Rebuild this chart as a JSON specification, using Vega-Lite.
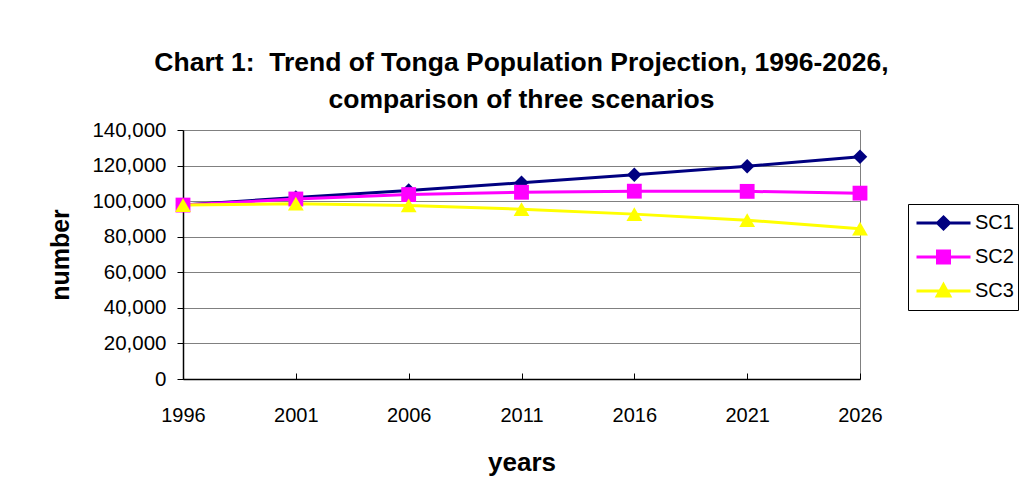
{
  "$schema": "https://vega.github.io/schema/vega-lite/v6.json",
  "autosize": {"type": "none"},
  "width": 677,
  "height": 249,
  "padding": {"left": 183, "top": 130, "right": 166, "bottom": 124},
  "background": "white",
  "title": {
    "text": ["Chart 1:\u00a0 Trend of Tonga Population Projection, 1996-2026,", "comparison of three scenarios"],
    "font": "Liberation Sans",
    "fontSize": 26.5,
    "fontWeight": "bold",
    "lineHeight": 37,
    "color": "black",
    "anchor": "middle",
    "offset": 7
  },
  "data": {
    "values": [
      {"year": "1996", "series": "SC1", "value": 97800},
      {"year": "2001", "series": "SC1", "value": 102000},
      {"year": "2006", "series": "SC1", "value": 106000},
      {"year": "2011", "series": "SC1", "value": 110300},
      {"year": "2016", "series": "SC1", "value": 114800},
      {"year": "2021", "series": "SC1", "value": 119600},
      {"year": "2026", "series": "SC1", "value": 125000},
      {"year": "1996", "series": "SC2", "value": 97800},
      {"year": "2001", "series": "SC2", "value": 101200},
      {"year": "2006", "series": "SC2", "value": 103700},
      {"year": "2011", "series": "SC2", "value": 105000},
      {"year": "2016", "series": "SC2", "value": 105600},
      {"year": "2021", "series": "SC2", "value": 105500},
      {"year": "2026", "series": "SC2", "value": 104500},
      {"year": "1996", "series": "SC3", "value": 97800},
      {"year": "2001", "series": "SC3", "value": 98600},
      {"year": "2006", "series": "SC3", "value": 97600},
      {"year": "2011", "series": "SC3", "value": 95500},
      {"year": "2016", "series": "SC3", "value": 92700},
      {"year": "2021", "series": "SC3", "value": 89300},
      {"year": "2026", "series": "SC3", "value": 84500}
    ]
  },
  "encoding": {
    "x": {
      "field": "year", "type": "ordinal",
      "scale": {"type": "point", "padding": 0},
      "axis": {
        "title": "years", "labelAngle": 0, "grid": false,
        "domainColor": "black", "domainWidth": 1.5,
        "tickColor": "black", "tickSize": -6,
        "labelFont": "Liberation Sans", "labelFontSize": 20, "labelColor": "black",
        "labelPadding": 32,
        "titleFont": "Liberation Sans", "titleFontSize": 26, "titleFontWeight": "bold", "titleColor": "black",
        "titlePadding": 24
      }
    },
    "y": {
      "field": "value", "type": "quantitative",
      "scale": {"domain": [0, 140000], "nice": false},
      "axis": {
        "title": "number", "values": [0, 20000, 40000, 60000, 80000, 100000, 120000, 140000],
        "format": ",.0f", "grid": true, "gridColor": "#808080", "gridWidth": 1,
        "domainColor": "black", "domainWidth": 1.5,
        "tickColor": "black", "tickSize": 6,
        "labelFont": "Liberation Sans", "labelFontSize": 20.5, "labelColor": "black",
        "labelPadding": 11,
        "titleFont": "Liberation Sans", "titleFontSize": 25, "titleFontWeight": "bold", "titleColor": "black",
        "titlePadding": 18
      }
    }
  },
  "layer": [
    {
      "transform": [{"filter": "datum.series === 'SC1'"}],
      "mark": {"type": "line", "strokeWidth": 3, "color": "#000080"}
    },
    {
      "transform": [{"filter": "datum.series === 'SC2'"}],
      "mark": {"type": "line", "strokeWidth": 3, "color": "#FF00FF"}
    },
    {
      "transform": [{"filter": "datum.series === 'SC3'"}],
      "mark": {"type": "line", "strokeWidth": 3, "color": "#FFFF00"}
    },
    {
      "mark": {"type": "point", "filled": true, "opacity": 1, "size": 4, "strokeWidth": 3},
      "encoding": {
        "color": {
          "field": "series", "type": "nominal",
          "scale": {"domain": ["SC1", "SC2", "SC3"], "range": ["#000080", "#FF00FF", "#FFFF00"]},
          "legend": {
            "orient": "none", "legendX": 725, "legendY": 74,
            "title": null,
            "fillColor": "white", "strokeColor": "black",
            "padding": 4,
            "labelFont": "Liberation Sans", "labelFontSize": 20, "labelColor": "black",
            "labelOffset": 0,
            "symbolSize": 3600,
            "symbolStrokeWidth": 3,
            "clipHeight": 30,
            "rowPadding": 4
          }
        },
        "stroke": {
          "field": "series", "type": "nominal",
          "scale": {"domain": ["SC1", "SC2", "SC3"], "range": ["#000080", "#FF00FF", "#FFFF00"]}
        },
        "shape": {
          "field": "series", "type": "nominal",
          "scale": {
            "domain": ["SC1", "SC2", "SC3"],
            "range": [
              "M-0.9,0L0.9,0M0,-0.2L0.2,0L0,0.2L-0.2,0Z",
              "M-0.9,0L0.9,0M-0.2,-0.2L0.2,-0.2L0.2,0.2L-0.2,0.2Z",
              "M-0.9,0L0.9,0M0,-0.21L0.21,0.17L-0.21,0.17Z"
            ]
          }
        }
      }
    },
    {
      "transform": [{"filter": "datum.series === 'SC1'"}],
      "mark": {"type": "point", "shape": "diamond", "filled": true, "opacity": 1, "size": 210, "color": "#000080"}
    },
    {
      "transform": [{"filter": "datum.series === 'SC2'"}],
      "mark": {"type": "point", "shape": "square", "filled": true, "opacity": 1, "size": 220, "color": "#FF00FF"}
    },
    {
      "transform": [{"filter": "datum.series === 'SC3'"}],
      "mark": {"type": "point", "shape": "triangle-up", "filled": true, "opacity": 1, "size": 250, "color": "#FFFF00"}
    }
  ],
  "config": {
    "view": {"stroke": "#808080", "strokeWidth": 1},
    "font": "Liberation Sans"
  }
}
